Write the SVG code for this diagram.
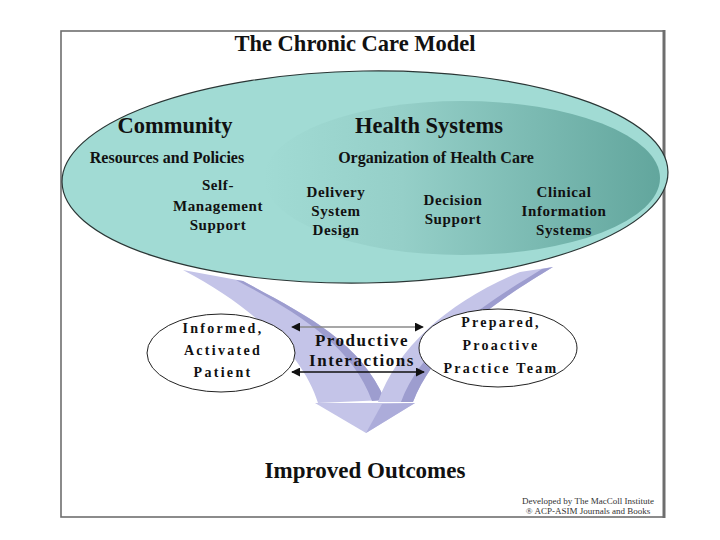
<svg xmlns="http://www.w3.org/2000/svg" width="720" height="540" viewBox="0 0 720 540">
<style>
.t{font-family:"Liberation Serif","Times New Roman",serif;font-weight:bold;fill:#111;text-anchor:middle}
.big{font-size:22.5px}
.mid{font-size:16px}
.lab{font-size:15px;letter-spacing:0.6px}
.sp{font-size:14px;letter-spacing:2.3px}
.pi{font-size:17px;letter-spacing:1.5px}
.foot{font-family:"Liberation Serif","Times New Roman",serif;font-size:9px;fill:#333;text-anchor:middle}
.band{fill:#c4c4e8}
.dark{fill:#9d9dcf}
.node{fill:#fff;stroke:#222;stroke-width:1}
</style>
<defs>
<linearGradient id="hs" x1="0" y1="0" x2="1" y2="0">
<stop offset="0" stop-color="#a1dbd4"/>
<stop offset="0.35" stop-color="#95cfc8"/>
<stop offset="1" stop-color="#62a69d"/>
</linearGradient>
<marker id="ah" viewBox="0 0 10 10" refX="9" refY="5" markerWidth="9" markerHeight="9" markerUnits="userSpaceOnUse" orient="auto-start-reverse">
<path d="M0,0 L10,5 L0,10 Z" fill="#111"/>
</marker>
</defs>
<rect width="720" height="540" fill="#fff"/>
<g id="frame">
<rect x="61" y="31" width="603" height="486" fill="none" stroke="#6e6e6e" stroke-width="1.6"/>
<line x1="664" y1="30" x2="664" y2="518" stroke="#6e6e6e" stroke-width="3"/>
</g>
<text class="t big" x="355" y="51">The Chronic Care Model</text>
<g id="connectors">
<path class="band" d="M183,270 L243,281 C300,312 360,340 385,400 L318,403 C305,360 260,310 183,270 Z"/>
<path class="dark" d="M236,280 L243,281 C300,312 360,340 385,400 L372,401 C352,345 296,312 236,280 Z"/>
<path class="band" d="M520,272 L553,267 C512,292 440,335 413,402 L378,402 C398,345 452,300 520,272 Z"/>
<path class="dark" d="M542,269 L553,267 C512,292 440,335 413,402 L401,402 C424,340 495,298 542,269 Z"/>
<path class="band" d="M315,403 L415,403 L366,433 Z"/>
<path fill="#acacda" d="M415,403 L366,433 L382,404 Z"/>
<line x1="292" y1="327" x2="423" y2="327" stroke="#8a8a8a" stroke-width="1.5" marker-start="url(#ah)" marker-end="url(#ah)"/>
<line x1="292" y1="372" x2="424" y2="372" stroke="#111" stroke-width="1.5" marker-start="url(#ah)" marker-end="url(#ah)"/>
</g>
<g id="care-model">
<ellipse cx="365" cy="177" rx="303" ry="106" transform="rotate(-1 365 177)" fill="#a1dbd4" stroke="#2a3635" stroke-width="1.2"/>
<ellipse cx="462" cy="178" rx="198" ry="77" fill="url(#hs)"/>
</g>
<g id="community">
<text class="t big" x="175" y="133">Community</text>
<text class="t mid" x="167" y="163">Resources and Policies</text>
</g>
<g id="health-systems">
<text class="t big" x="429" y="133">Health Systems</text>
<text class="t mid" x="436" y="163">Organization of Health Care</text>
</g>
<g id="self-management">
<text class="t lab" x="218" y="190">Self-</text>
<text class="t lab" x="218" y="211">Management</text>
<text class="t lab" x="218" y="230">Support</text>
</g>
<g id="delivery-system-design">
<text class="t lab" x="336" y="197">Delivery</text>
<text class="t lab" x="336" y="216">System</text>
<text class="t lab" x="336" y="235">Design</text>
</g>
<g id="decision-support">
<text class="t lab" x="453" y="205">Decision</text>
<text class="t lab" x="453" y="224">Support</text>
</g>
<g id="clinical-information-systems">
<text class="t lab" x="564" y="197">Clinical</text>
<text class="t lab" x="564" y="216">Information</text>
<text class="t lab" x="564" y="235">Systems</text>
</g>
<g id="patient">
<ellipse class="node" cx="221" cy="353" rx="74" ry="39"/>
<text class="t sp" x="223" y="333">Informed,</text>
<text class="t sp" x="223" y="355">Activated</text>
<text class="t sp" x="223" y="377">Patient</text>
</g>
<g id="practice-team">
<ellipse class="node" cx="498" cy="348" rx="79" ry="39"/>
<text class="t sp" x="501" y="327">Prepared,</text>
<text class="t sp" x="501" y="350">Proactive</text>
<text class="t sp" x="501" y="373">Practice Team</text>
</g>
<g id="productive-interactions">
<text class="t pi" x="362" y="346">Productive</text>
<text class="t pi" x="362" y="366">Interactions</text>
</g>
<g id="outcomes">
<text class="t" style="font-size:23px" x="365" y="478">Improved Outcomes</text>
</g>
<g id="credits">
<text class="foot" x="588" y="504">Developed by The MacColl Institute</text>
<text class="foot" x="588" y="514">® ACP-ASIM Journals and Books</text>
</g>
</svg>
